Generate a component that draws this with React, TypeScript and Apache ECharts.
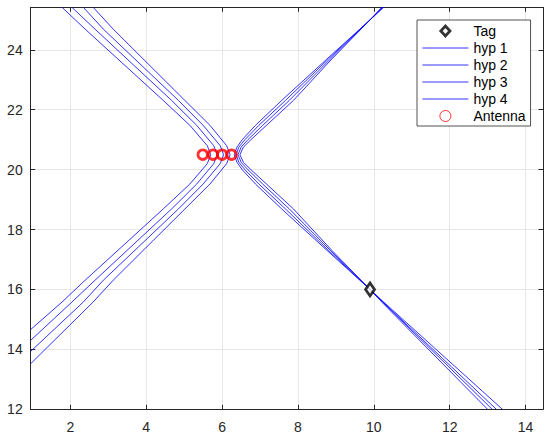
import { useEffect, useRef } from "react";
import * as echarts from "echarts";

const xMin = 0.954;
const xMax = 14.46;
const yMin = 12;
const yMax = 25.42;

const tagPoint: number[][] = [[9.9, 16]];
const antennaPoints: number[][] = [
  [5.49, 20.5],
  [5.76, 20.5],
  [6.0, 20.5],
  [6.25, 20.5],
];

const hypNames = ["hyp 1", "hyp 2", "hyp 3", "hyp 4"];

const hyp1Left: number[][] = [
  [0.96, 26.33], [1.78, 25.42], [2.39, 24.69], [4.45, 22.31], [5.15, 21.48], [5.61, 20.8], [5.7, 20.5],
  [5.61, 20.2], [5.15, 19.52], [4.45, 18.69], [2.39, 16.31], [1.78, 15.58], [0.96, 14.67],
];
const hyp2Left: number[][] = [
  [0.96, 26.69], [2.04, 25.42], [2.65, 24.69], [4.67, 22.31], [5.33, 21.48], [5.78, 20.8], [5.87, 20.5],
  [5.78, 20.2], [5.33, 19.52], [4.67, 18.69], [2.65, 16.31], [2.04, 15.58], [0.96, 14.31],
];
const hyp3Left: number[][] = [
  [0.96, 27.06], [2.34, 25.42], [2.87, 24.69], [4.85, 22.31], [5.5, 21.48], [5.95, 20.8], [6.04, 20.5],
  [5.95, 20.2], [5.5, 19.52], [4.85, 18.69], [2.87, 16.31], [2.34, 15.58], [0.96, 13.94],
];
const hyp4Left: number[][] = [
  [0.96, 27.47], [2.6, 25.42], [3.13, 24.69], [5.02, 22.31], [5.68, 21.48], [6.12, 20.8], [6.21, 20.5],
  [6.12, 20.2], [5.68, 19.52], [5.02, 18.69], [3.13, 16.31], [2.6, 15.58], [0.96, 13.53],
];

const hyp1Right: number[][] = [
  [13.39, 29.0], [10.26, 25.42], [9.9, 25.0], [8.76, 23.69], [7.57, 22.31], [6.88, 21.48], [6.53, 21.0],
  [6.39, 20.75], [6.32, 20.5], [6.39, 20.25], [6.53, 20.0], [6.88, 19.52], [7.57, 18.69], [8.76, 17.31],
  [9.9, 16.0], [10.26, 15.58], [13.39, 12.0],
];
const hyp2Right: number[][] = [
  [13.23, 29.0], [10.24, 25.42], [9.9, 25.0], [8.8, 23.69], [7.67, 22.31], [6.97, 21.48], [6.6, 21.0],
  [6.44, 20.75], [6.37, 20.5], [6.44, 20.25], [6.6, 20.0], [6.97, 19.52], [7.67, 18.69], [8.8, 17.31],
  [9.9, 16.0], [10.24, 15.58], [13.23, 12.0],
];
const hyp3Right: number[][] = [
  [13.12, 29.0], [10.23, 25.42], [9.9, 25.0], [8.85, 23.69], [7.77, 22.31], [7.07, 21.48], [6.68, 21.0],
  [6.5, 20.75], [6.42, 20.5], [6.5, 20.25], [6.68, 20.0], [7.07, 19.52], [7.77, 18.69], [8.85, 17.31],
  [9.9, 16.0], [10.23, 15.58], [13.12, 12.0],
];
const hyp4Right: number[][] = [
  [13.0, 29.0], [10.21, 25.42], [9.9, 25.0], [8.89, 23.69], [7.88, 22.31], [7.17, 21.48], [6.76, 21.0],
  [6.56, 20.75], [6.47, 20.5], [6.56, 20.25], [6.76, 20.0], [7.17, 19.52], [7.88, 18.69], [8.89, 17.31],
  [9.9, 16.0], [10.21, 15.58], [13.0, 12.0],
];

const hypLeft = [hyp1Left, hyp2Left, hyp3Left, hyp4Left];
const hypRight = [hyp1Right, hyp2Right, hyp3Right, hyp4Right];

export default function App() {
  const ref = useRef<HTMLDivElement>(null);

  useEffect(() => {
    if (!ref.current) return;
    const chart = echarts.init(ref.current, null, { renderer: "svg" });
    const font = "'Liberation Sans', Arial, Helvetica, sans-serif";
    const axisColor = "#262626";
    const gridColor = "#e6e6e6";
    const hypColor = "#0000ff";

    const hypSeries: any[] = [];
    hypNames.forEach((name, i) => {
      [hypLeft[i], hypRight[i]].forEach((branch) => {
        hypSeries.push({
          name,
          type: "line",
          data: branch,
          symbol: "none",
          showSymbol: false,
          silent: true,
          clip: true,
          z: 3,
          lineStyle: { color: hypColor, width: 0.8 },
          itemStyle: { color: hypColor },
        });
      });
    });

    const xAxisBase = {
      type: "value",
      min: xMin,
      max: xMax,
      minInterval: 2,
      maxInterval: 2,
      splitNumber: 7,
    };
    const yAxisBase = {
      type: "value",
      min: yMin,
      max: yMax,
      interval: 2,
    };

    const diamondIcon = "path://M0,0 M46,12 M23,0.6 L28,6 L23,11.4 L18,6 Z";

    chart.setOption({
      animation: false,
      backgroundColor: "#ffffff",
      grid: { left: 30.7, right: 7, top: 7.3, bottom: 29.7, containLabel: false },
      xAxis: [
        {
          ...xAxisBase,
          position: "bottom",
          axisLine: { show: true, onZero: false, lineStyle: { color: axisColor, width: 1 } },
          axisTick: { show: true, inside: true, length: 4.5, lineStyle: { color: axisColor } },
          axisLabel: {
            showMinLabel: false,
            showMaxLabel: false,
            margin: 11,
            fontSize: 14,
            color: axisColor,
            fontFamily: font,
          },
          splitLine: { show: true, lineStyle: { color: gridColor, width: 1 } },
        },
        {
          ...xAxisBase,
          position: "top",
          axisLine: { show: true, onZero: false, lineStyle: { color: axisColor, width: 1 } },
          axisTick: { show: true, inside: true, length: 4.5, lineStyle: { color: axisColor } },
          axisLabel: { show: false },
          splitLine: { show: false },
        },
      ],
      yAxis: [
        {
          ...yAxisBase,
          position: "left",
          axisLine: { show: true, onZero: false, lineStyle: { color: axisColor, width: 1 } },
          axisTick: { show: true, inside: true, length: 4.5, lineStyle: { color: axisColor } },
          axisLabel: {
            showMaxLabel: false,
            margin: 8,
            fontSize: 14,
            color: axisColor,
            fontFamily: font,
          },
          splitLine: { show: true, lineStyle: { color: gridColor, width: 1 } },
        },
        {
          ...yAxisBase,
          position: "right",
          axisLine: { show: true, onZero: false, lineStyle: { color: axisColor, width: 1 } },
          axisTick: { show: true, inside: true, length: 4.5, lineStyle: { color: axisColor } },
          axisLabel: { show: false },
          splitLine: { show: false },
        },
      ],
      legend: {
        orient: "vertical",
        left: 417,
        top: 20,
        padding: [4, 5, 3, 5],
        itemGap: 3,
        itemWidth: 46,
        itemHeight: 11,
        backgroundColor: "#ffffff",
        borderColor: axisColor,
        borderWidth: 0.8,
        borderRadius: 0,
        selectedMode: false,
        textStyle: { fontSize: 14, color: "#000000", fontFamily: font },
        data: [
          {
            name: "Tag",
            icon: diamondIcon,
            itemStyle: { color: "#ffffff", borderColor: "#000000", borderWidth: 2.8 },
          },
          ...hypNames.map((n) => ({
            name: n,
            itemStyle: { opacity: 0, color: "transparent", borderWidth: 0 },
            lineStyle: { color: hypColor, width: 0.8 },
          })),
          {
            name: "Antenna",
            itemStyle: { color: "rgba(255,255,255,0)", borderColor: "#ff0000", borderWidth: 1 },
          },
        ],
      },
      series: [
        {
          name: "Tag",
          type: "scatter",
          data: tagPoint,
          symbol: "diamond",
          symbolSize: [9, 13],
          z: 4,
          silent: true,
          itemStyle: { color: "#ffffff", borderColor: "#000000", borderWidth: 2.8 },
        },
        ...hypSeries,
        {
          name: "Antenna",
          type: "scatter",
          data: antennaPoints,
          symbol: "circle",
          symbolSize: 9.5,
          z: 5,
          silent: true,
          itemStyle: { color: "rgba(255,255,255,0)", borderColor: "#ff0000", borderWidth: 2.8 },
        },
      ],
    });

    return () => {
      chart.dispose();
    };
  }, []);

  return (
    <div
      ref={ref}
      style={{ position: "fixed", left: 0, top: 0, width: 550, height: 439 }}
    />
  );
}
